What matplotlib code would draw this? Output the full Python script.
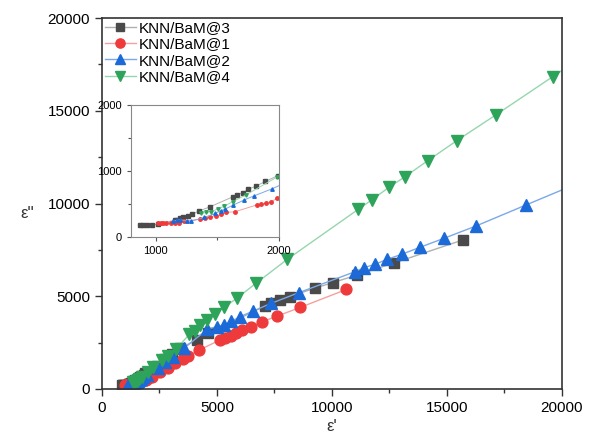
import matplotlib
matplotlib.use("Agg")
import matplotlib.pyplot as plt
from matplotlib.ticker import MultipleLocator

plt.rcParams['font.family'] = ['Liberation Sans', 'DejaVu Sans']

labels = ["KNN/BaM@3", "KNN/BaM@1", "KNN/BaM@2", "KNN/BaM@4"]

x3 = [874, 901, 928, 968, 1019, 1153, 1174, 1196, 1223, 1260, 1295, 1351, 1442, 1630, 1657, 1705,
      1751, 1812, 1890, 1989, 2400, 2750, 3030, 3391, 4117, 4622, 7087, 7335, 7739, 8174, 9261,
      10030, 11087, 12696, 15683]
y3 = [189, 189, 189, 179, 194, 255, 265, 281, 296, 321, 347, 393, 459, 612, 638, 673,
      724, 770, 842, 929, 1250, 1600, 1871, 2194, 2642, 3003, 4474, 4652, 4798, 4976, 5445,
      5730, 6146, 6792, 8032]

x1 = [1019, 1040, 1062, 1083, 1121, 1153, 1188, 1228, 1362, 1402, 1442, 1491, 1528, 1571, 1643,
      1818, 1858, 1898, 1938, 1987, 2161, 2522, 2883, 3174, 3535, 3752, 4230, 5130, 5348, 5600,
      5839, 6087, 6465, 6943, 7596, 8609, 10622]
y1 = [219, 219, 214, 219, 214, 214, 214, 240, 270, 281, 306, 321, 342, 372, 383,
      485, 495, 510, 536, 587, 663, 900, 1116, 1385, 1617, 1779, 2102, 2642, 2766, 2873,
      3035, 3181, 3358, 3612, 3919, 4394, 5364]

x2 = [1142, 1169, 1196, 1255, 1287, 1394, 1483, 1528, 1563, 1630, 1718, 1796, 1944, 2435, 2739,
      3074, 3565, 4578, 4987, 5304, 5622, 6022, 6578, 7361, 8578, 11000, 11391, 11870, 12404,
      13030, 13826, 14870, 16261, 18435, 21500]
y2 = [240, 255, 265, 240, 240, 296, 357, 398, 423, 485, 561, 622, 730, 1150, 1472,
      1741, 2194, 3218, 3358, 3450, 3650, 3908, 4205, 4620, 5202, 6323, 6539, 6722, 6992,
      7261, 7639, 8124, 8787, 9919, 11510]

x4 = [1370, 1410, 1450, 1509, 1558, 1625, 1732, 1984, 2230, 2596, 2883, 3217, 3800, 4043, 4261,
      4552, 4913, 5317, 5857, 6696, 8057, 11143, 11726, 12478, 13174, 14161, 15422, 17117,
      19596, 21800]
y4 = [357, 372, 383, 429, 469, 536, 638, 908, 1202, 1563, 1779, 2140, 2950, 3143, 3450,
      3720, 4059, 4404, 4889, 5698, 6992, 9687, 10189, 10873, 11445, 12307, 13385, 14771,
      16836, 18670]

series = [
    (x3, y3, 's', '#4a4a4a', '#b0b0b0', 7.2),
    (x1, y1, 'o', '#ee3a3a', '#f4a0a0', 7.8),
    (x2, y2, '^', '#1c6ad8', '#7aa8ea', 8.5),
    (x4, y4, 'v', '#2ea35a', '#96d6ae', 8.5),
]

fig = plt.figure(figsize=(5.95, 4.34), dpi=100)
ax = fig.add_axes([0.1714, 0.1037, 0.7731, 0.8548])

for (xs, ys, m, mc, lc, ms), lab in zip(series, labels):
    ax.plot(xs, ys, color=lc, lw=1.0, marker=m, ms=ms, mfc=mc, mec=mc, label=lab)

ax.set_xlim(0, 20000)
ax.set_ylim(0, 20000)
ax.xaxis.set_major_locator(MultipleLocator(5000))
ax.xaxis.set_minor_locator(MultipleLocator(2500))
ax.yaxis.set_major_locator(MultipleLocator(5000))
ax.yaxis.set_minor_locator(MultipleLocator(2500))
ax.tick_params(which='both', direction='out', top=False, right=False, labelsize=11,
               color='#333333', width=1.0)
ax.tick_params(which='major', length=5)
ax.tick_params(which='minor', length=3)
for s in ax.spines.values():
    s.set_color('#333333')
    s.set_linewidth(1.2)

ax.set_xlabel("ε'", fontsize=12, labelpad=3, color='#333333')
fig.text(27 / 595, 1 - 213 / 434, "ε''", fontsize=12, ha='center', va='center', color='#333333')

leg = ax.legend(loc='upper left', frameon=False, fontsize=11, handlelength=2.0,
                handletextpad=0.2, borderaxespad=0.0, borderpad=0.2, labelspacing=0.15,
                markerscale=0.85, bbox_to_anchor=(0.0, 1.0))

ins = fig.add_axes([0.2202, 0.4539, 0.2487, 0.3042])
for xs, ys, m, mc, lc, ms in series:
    ins.plot(xs, ys, color=lc, lw=0.7, marker=m, ms=2.5, mfc=mc, mec=mc)
ins.set_xlim(800, 2000)
ins.set_ylim(0, 2000)
ins.set_xticks([1000, 2000])
ins.xaxis.set_minor_locator(MultipleLocator(500))
ins.yaxis.set_major_locator(MultipleLocator(1000))
ins.yaxis.set_minor_locator(MultipleLocator(500))
ins.tick_params(which='both', direction='out', top=False, right=False, labelsize=8,
                color='#555555', width=0.8)
ins.tick_params(which='major', length=3)
ins.tick_params(which='minor', length=2)
for s in ins.spines.values():
    s.set_color('#888888')
    s.set_linewidth(0.8)

fig.savefig("out.png", dpi=100)
